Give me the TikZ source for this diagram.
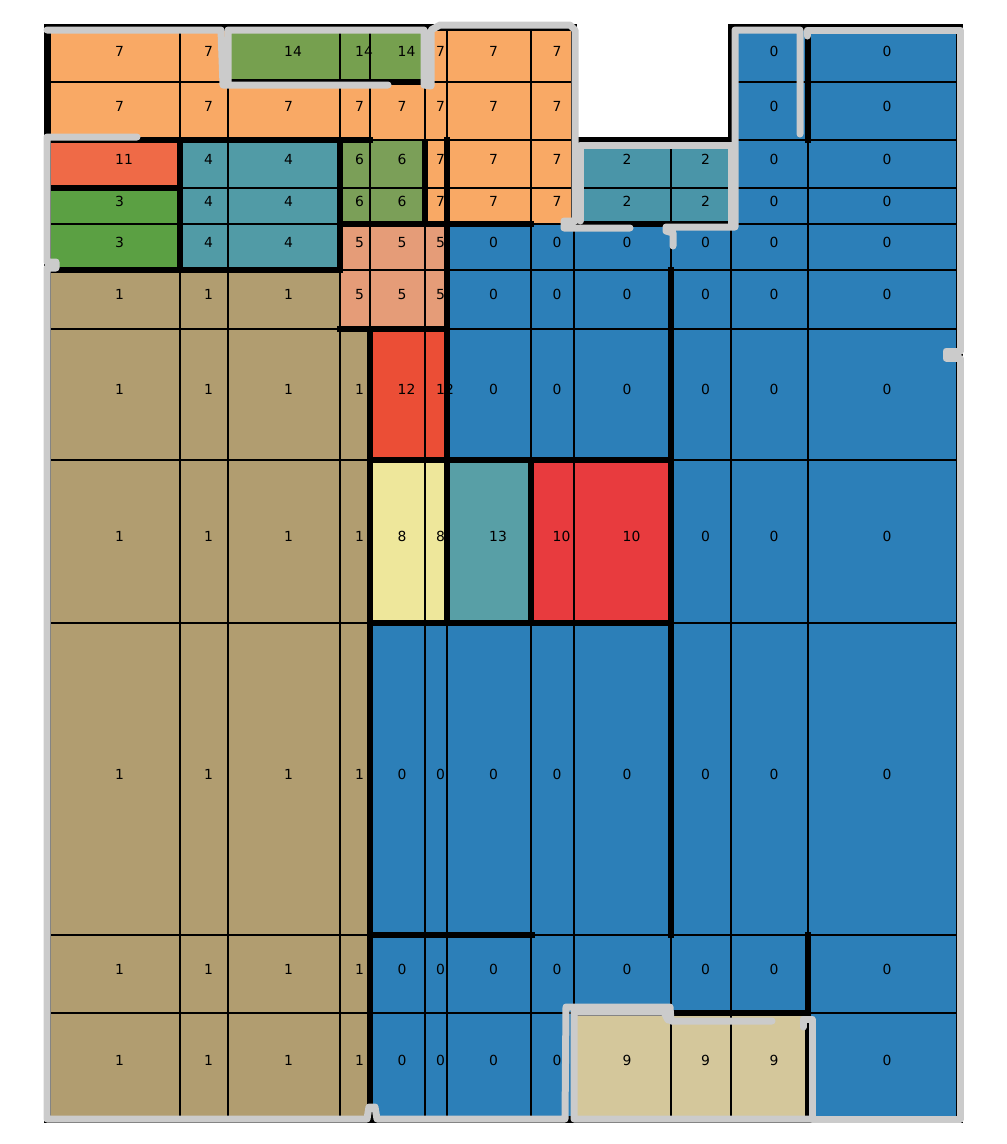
\documentclass[tikz,border=0pt]{standalone}
\usepackage{fontspec}
\setmainfont{DejaVu Sans}
\usepackage{xcolor}
\usepackage{tikz}

\definecolor{c0}{HTML}{2C7FB8}
\definecolor{c1}{HTML}{B19D70}
\definecolor{c2}{HTML}{4A95A8}
\definecolor{c3}{HTML}{5BA043}
\definecolor{c4}{HTML}{519BA6}
\definecolor{c5}{HTML}{E59C78}
\definecolor{c6}{HTML}{7B9F58}
\definecolor{c7}{HTML}{F9A965}
\definecolor{c8}{HTML}{EEE79B}
\definecolor{c9}{HTML}{D4C79B}
\definecolor{c10}{HTML}{E83B3E}
\definecolor{c11}{HTML}{EF6A47}
\definecolor{c12}{HTML}{EB4E36}
\definecolor{c13}{HTML}{589FA6}
\definecolor{c14}{HTML}{76A04F}
\definecolor{tracegray}{HTML}{CBCBCB}

\newcommand\colx{{50,180,228,340,370,425,447,531,574,671,731,808,957}}
\newcommand\gridrows{%
  30/82/{7,7,14,14,14,7,7,7,-1,-1,0,0},%
  82/140/{7,7,7,7,7,7,7,7,-1,-1,0,0},%
  140/188/{11,4,4,6,6,7,7,7,2,2,0,0},%
  188/224/{3,4,4,6,6,7,7,7,2,2,0,0},%
  224/270/{3,4,4,5,5,5,0,0,0,0,0,0},%
  270/329/{1,1,1,5,5,5,0,0,0,0,0,0},%
  329/460/{1,1,1,1,12,12,0,0,0,0,0,0},%
  460/623/{1,1,1,1,8,8,13,10,10,0,0,0},%
  623/935/{1,1,1,1,0,0,0,0,0,0,0,0},%
  935/1013/{1,1,1,1,0,0,0,0,0,0,0,0},%
  1013/1117/{1,1,1,1,0,0,0,0,9,9,9,0}}

\begin{document}
\begin{tikzpicture}[x=1pt, y=-1pt,
  cell/.style={draw=black, line width=1.5pt},
  lbl/.style={anchor=base west, inner sep=0pt, font=\fontsize{13.9}{16}\selectfont},
  wall/.style={line width=6pt, line join=miter},
  gline/.style={draw=tracegray, line width=7pt, line cap=round, line join=round}]
  \useasboundingbox (0,0) rectangle (1007,1144);

  \foreach \ya/\yb/\cells in \gridrows
    \foreach \lab [count=\ci from 0] in \cells {
      \ifnum\lab<0 \else
        \pgfmathsetmacro\xa{\colx[\ci]}
        \pgfmathsetmacro\xb{\colx[\ci+1]}
        \draw[cell, fill=c\lab] (\xa,\ya) rectangle (\xb,\yb);
      \fi
    }
  \foreach \ya/\yb/\cells [count=\ri] in \gridrows
    \foreach \lab [count=\ci from 0] in \cells {
      \ifnum\lab<0 \else
        \pgfmathsetmacro\xa{\colx[\ci]}
        \pgfmathsetmacro\xb{\colx[\ci+1]}
        \node[lbl] (n\ri-\ci) at ({(\xa+\xb)/2},{(\ya+\yb)/2}) {\lab};
      \fi
    }

  \draw[wall] (574,140) -- (574,27) -- (47,27) -- (47,1120) -- (960,1120) -- (960,27) -- (731,27) -- (731,140) -- cycle;
  \draw[wall] (228,27) -- (228,82) -- (425,82) -- (425,27);
  \draw[wall] (47,140) -- (373,140);
  \draw[wall] (180,140) -- (180,270);
  \draw[wall] (47,188) -- (180,188);
  \draw[wall] (47,270) -- (343,270);
  \draw[wall] (340,140) -- (340,270);
  \draw[wall] (425,140) -- (425,224);
  \draw[wall] (447,137) -- (447,623);
  \draw[wall] (337,224) -- (534,224);
  \draw[wall] (574,140) -- (574,224) -- (731,224) -- (731,140);
  \draw[wall] (337,329) -- (447,329);
  \draw[wall] (370,329) -- (370,1120);
  \draw[wall] (370,460) -- (673,460);
  \draw[wall] (370,623) -- (673,623);
  \draw[wall] (531,460) -- (531,623);
  \draw[wall] (671,267) -- (671,938);
  \draw[wall] (370,935) -- (535,935);
  \draw[wall] (808,932) -- (808,1013) -- (574,1013) -- (574,1120);
  \draw[wall] (808,1013) -- (808,1120);
  \draw[wall] (808,27) -- (808,143);

  \draw[gline] (137,137) -- (47,137) -- (47,262) -- (56,262) -- (56,268) -- (47,268) -- (47,1119)
    -- (367,1119) -- (369,1107) -- (375,1107) -- (377,1119) -- (565,1119) -- (566,1007)
    -- (670,1007) -- (671,1021) -- (772,1021);
  \draw[gline] (803,1027) -- (803,1019) -- (812,1019) -- (812,1119) -- (960,1119) -- (960,358)
    -- (946,358) -- (946,351) -- (960,351) -- (960,30) -- (807,30) -- (807,36);
  \draw[gline] (812,1119) -- (574,1119) -- (574,1012) -- (664,1012) -- (668,1020);
  \draw[gline] (800,134) -- (800,30) -- (735,30) -- (735,227) -- (666,227) -- (666,231)
    -- (673,233) -- (673,246);
  \draw[gline] (580,221) -- (580,145) -- (731,145) -- (731,226);
  \draw[gline] (228,82) -- (228,30) -- (424,30) -- (424,85) -- (431,86) -- (431,30) -- (440,25)
    -- (570,25) -- (575,30) -- (575,221) -- (564,221) -- (564,228) -- (630,228);
  \draw[gline] (47,30) -- (221,30) -- (223,85) -- (388,85);
\end{tikzpicture}
\end{document}
